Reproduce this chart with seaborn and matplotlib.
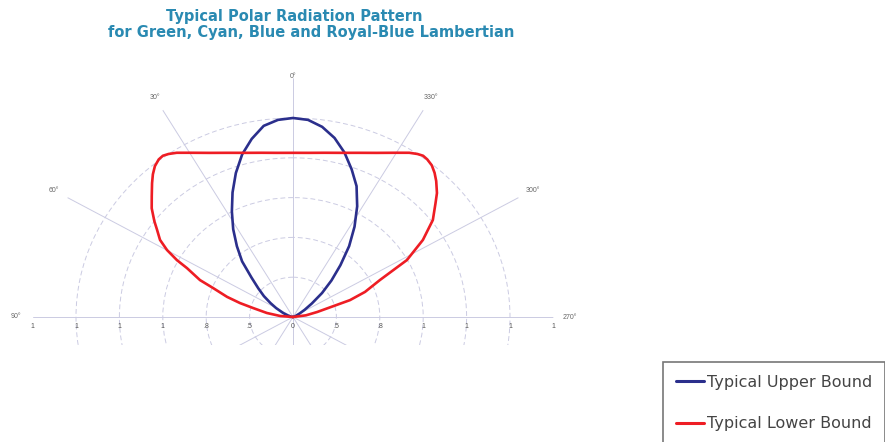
import numpy as np
import pandas as pd
import matplotlib
matplotlib.use("Agg")
import matplotlib.pyplot as plt
import matplotlib.transforms as mtransforms
from matplotlib.patches import Rectangle
import seaborn as sns

# ---------------- data (angle in degrees, 0 = on-axis, + = left side) ----------------
upper_angle = [-90, -70, -60, -56, -52, -48, -44, -40, -36, -32, -28, -24, -20, -16, -12,
               -8, -4, 0, 4, 8, 12, 16, 20, 24, 28, 32, 36, 40, 44, 48, 52, 56, 60, 66,
               72, 80, 90]
upper_r = [0.0, 0.010, 0.035, 0.065, 0.110, 0.180, 0.255, 0.340, 0.440, 0.535, 0.630,
           0.720, 0.790, 0.860, 0.920, 0.965, 0.993, 1.000, 0.993, 0.970, 0.915, 0.850,
           0.770, 0.685, 0.600, 0.520, 0.440, 0.365, 0.275, 0.215, 0.170, 0.125, 0.090,
           0.050, 0.025, 0.008, 0.0]

lower_angle = [-90, -82, -77.3, -72.1, -69.2, -65.1, -61.4, -57.1, -52.9, -49, -46.8, -44,
               -42, -40, -38, -36.5, -35, -33, -30, -25, -20, -15, -10, -5, 0, 5, 10, 15,
               20, 25, 30, 33, 35, 36.5, 38, 40, 42, 44, 47, 50, 53, 55, 57.7, 59.9, 61.9,
               63.3, 66.6, 68.4, 71.6, 74, 76.2, 80.5, 85, 90]
lower_r = [0.0, 0.060, 0.114, 0.276, 0.355, 0.442, 0.598, 0.713, 0.808, 0.870, 0.910,
           0.950, 0.975, 0.995, 1.005, 1.008, 1.000, 0.984, 0.953, 0.910, 0.878, 0.854,
           0.838, 0.828, 0.825, 0.828, 0.838, 0.854, 0.878, 0.910, 0.953, 0.984, 1.000,
           1.008, 1.005, 0.990, 0.965, 0.935, 0.890, 0.850, 0.800, 0.765, 0.725, 0.671,
           0.606, 0.547, 0.467, 0.397, 0.320, 0.254, 0.190, 0.122, 0.060, 0.0]

series_names = ["Typical Upper Bound", "Typical Lower Bound"]
series_colors = ["#2b2f8c", "#ee1d24"]

ring_values = [0.2, 0.4, 0.6, 0.8, 1.0]
r_label_pos = [0.0, 0.2, 0.4, 0.6, 0.8, 1.0, 1.2]
r_label_text = ["0", ".5", ".8", "1", "1", "1", "1"]
theta_ticks = [0, 30, 60, 90, 120, 150, 180, 210, 240, 270, 300, 330]
theta_label_angle = [0, 30, 60, 90, 270, 300, 330]
theta_label_text = ["0°", "30°", "60°", "90°", "270°", "300°", "330°"]

title_1 = "Typical Polar Radiation Pattern"
title_2 = "for Green, Cyan, Blue and Royal-Blue Lambertian"

# ---------------- build table ----------------
df = pd.concat([
    pd.DataFrame({"theta": np.deg2rad(upper_angle), "r": upper_r, "series": series_names[0]}),
    pd.DataFrame({"theta": np.deg2rad(lower_angle), "r": lower_r, "series": series_names[1]}),
], ignore_index=True)

sns.set_theme(style="white")
plt.rcParams["font.family"] = ["Liberation Sans", "DejaVu Sans"]

W, H = 885, 442
fig = plt.figure(figsize=(W / 100, H / 100), dpi=100)
fig.patch.set_facecolor("white")

# polar axes: centre at (293, 317) px, 217 px/unit horizontally, 199 px/unit vertically
rmax = 1.2
cx, cy = 293, 317
sx, sy = 217, 199
left = (cx - rmax * sx) / W
width = 2 * rmax * sx / W
bottom = (H - (cy + rmax * sy)) / H
height = 2 * rmax * sy / H
ax = fig.add_axes([left, bottom, width, height], projection="polar")
ax.set_aspect("auto")
ax.set_facecolor("white")
ax.set_theta_zero_location("N")
ax.set_theta_direction(1)

sns.lineplot(data=df, x="theta", y="r", hue="series", palette=series_colors,
             sort=False, estimator=None, linewidth=1.9, ax=ax, legend=True)

ax.set_xlim(0, 2 * np.pi)
ax.set_ylim(0, rmax)
ax.set_xlabel("")
ax.set_ylabel("")
ax.spines["polar"].set_visible(False)

grid_col = "#cbcbe2"
ax.set_thetagrids(theta_ticks, [""] * len(theta_ticks))
ax.set_yticks(ring_values)
ax.set_yticklabels([])
ax.xaxis.grid(True, color=grid_col, linewidth=0.7, linestyle="-")
ax.yaxis.grid(True, color=grid_col, linewidth=0.7, linestyle=(0, (5, 3)))

# angle labels just outside the spokes
for ang, txt in zip(theta_label_angle, theta_label_text):
    rr = 1.21 if ang == 0 else 1.275
    ax.text(np.deg2rad(ang), rr, txt, ha="center", va="center", fontsize=5,
            color="#666666")

# radial labels along the baseline on both sides
off = mtransforms.ScaledTranslation(0, -10 / 100, fig.dpi_scale_trans)
for rv, txt in zip(r_label_pos, r_label_text):
    for side in (90, -90):
        if rv == 0 and side == -90:
            continue
        ax.text(np.deg2rad(side), rv, txt, transform=ax.transData + off,
                ha="center", va="center", fontsize=5, color="#555555")

# hide the lower half of the grid below the crop line
fig.add_artist(Rectangle((0, 0), 620 / W, (H - 345) / H, transform=fig.transFigure,
                         facecolor="white", edgecolor="none", zorder=3))

# title
tcol = "#2a8ab2"
fig.text(294 / W, 1 - 17 / H, title_1, ha="center", va="center", fontsize=10.5,
         fontweight="bold", color=tcol, family="DejaVu Sans")
fig.text(311 / W, 1 - 33 / H, title_2, ha="center", va="center", fontsize=10.5,
         fontweight="bold", color=tcol, family="DejaVu Sans")

# legend
handles, labels = ax.get_legend_handles_labels()
if ax.get_legend() is not None:
    ax.get_legend().remove()
leg = fig.legend(handles, labels, loc="upper left", bbox_to_anchor=(663 / W, 1 - 362 / H),
                 frameon=True, fancybox=False, edgecolor="#555555",
                 prop={"family": "DejaVu Sans", "size": 11.5},
                 handlelength=1.75, handletextpad=0.2, labelspacing=1.65, borderpad=0.8,
                 borderaxespad=0)
leg.set_zorder(10)
leg.get_frame().set_linewidth(1.2)
for t in leg.get_texts():
    t.set_color("#444444")
for h in leg.get_lines():
    h.set_linewidth(2.2)

fig.savefig("out.png", dpi=100, facecolor="white")
